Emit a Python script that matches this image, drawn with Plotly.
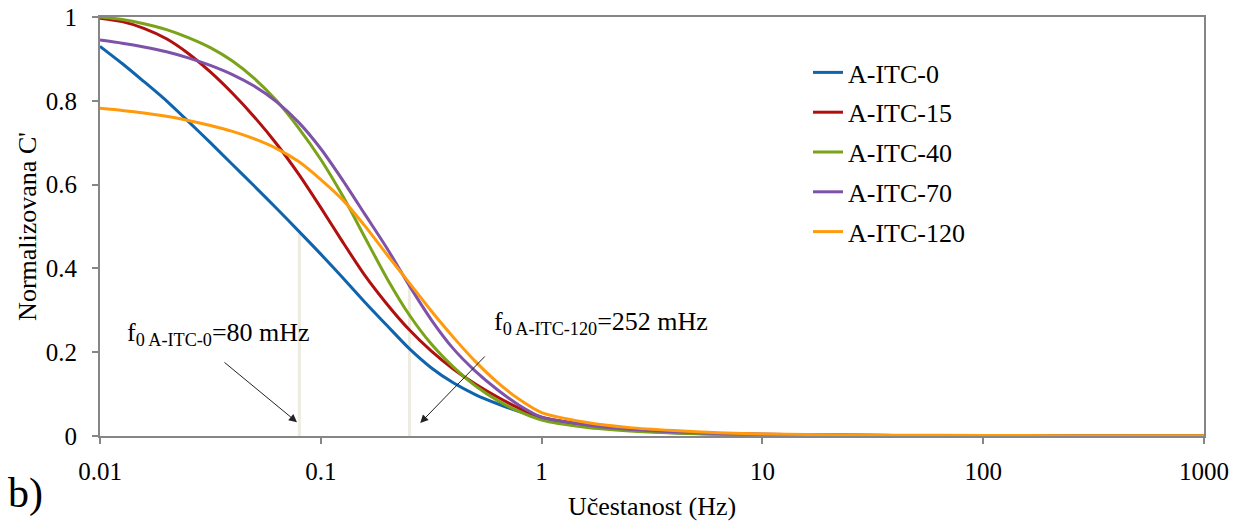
import plotly.graph_objects as go
import numpy as np

freq = [0.01, 0.0126, 0.0158, 0.02, 0.0251, 0.0316, 0.0398, 0.0501, 0.0631, 0.0794,
        0.1, 0.126, 0.158, 0.2, 0.251, 0.316, 0.398, 0.501, 0.631, 0.794,
        1, 1.58, 2.51, 3.98, 6.31, 10, 25.1, 63.1, 158, 398, 1000]

itc_0 = [0.930, 0.889, 0.846, 0.800, 0.751, 0.700, 0.648, 0.596, 0.543, 0.489,
         0.434, 0.377, 0.320, 0.263, 0.209, 0.163, 0.127, 0.099, 0.077, 0.058,
         0.042, 0.024, 0.014, 0.008, 0.005, 0.003, 0.002, 0.001, 0.0006, 0.0003, 0.0]
itc_15 = [0.997, 0.989, 0.973, 0.948, 0.913, 0.869, 0.818, 0.761, 0.697, 0.625,
          0.545, 0.462, 0.384, 0.314, 0.254, 0.203, 0.160, 0.124, 0.093, 0.066,
          0.045, 0.027, 0.016, 0.010, 0.006, 0.004, 0.002, 0.001, 0.0006, 0.0003, 0.0]
itc_40 = [1.0, 0.994, 0.984, 0.970, 0.951, 0.927, 0.895, 0.853, 0.800, 0.735,
          0.660, 0.572, 0.475, 0.375, 0.290, 0.220, 0.165, 0.120, 0.085, 0.058,
          0.038, 0.021, 0.012, 0.007, 0.004, 0.003, 0.0015, 0.001, 0.0006, 0.0003, 0.0]
itc_70 = [0.945, 0.9375, 0.9285, 0.917, 0.9025, 0.8845, 0.8625, 0.8345, 0.7975, 0.7485,
          0.6855, 0.6095, 0.530, 0.447, 0.360, 0.278, 0.2085, 0.155, 0.1105, 0.073,
          0.045, 0.027, 0.016, 0.010, 0.006, 0.004, 0.002, 0.001, 0.0006, 0.0003, 0.0]
itc_120 = [0.782, 0.777, 0.771, 0.763, 0.753, 0.741, 0.727, 0.709, 0.686, 0.655,
           0.612, 0.563, 0.502, 0.432, 0.366, 0.299, 0.236, 0.178, 0.128, 0.087,
           0.056, 0.033, 0.020, 0.013, 0.008, 0.005, 0.0025, 0.0015, 0.001, 0.0005, 0.0003]

series_names = ["A-ITC-0", "A-ITC-15", "A-ITC-40", "A-ITC-70", "A-ITC-120"]
series_values = [itc_0, itc_15, itc_40, itc_70, itc_120]
series_colors = ["#0F64AD", "#B0100E", "#7BA31A", "#7E52A8", "#FF9A0C"]

marker_freqs = [0.08, 0.252]
marker_tops = [0.482, 0.366]

x_tickvals = [0.01, 0.1, 1, 10, 100, 1000]
x_ticktext = ["0.01", "0.1", "1", "10", "100", "1000"]
y_tickvals = [0, 0.2, 0.4, 0.6, 0.8, 1]
y_ticktext = ["0", "0.2", "0.4", "0.6", "0.8", "1"]

FONT = "Liberation Serif, Times New Roman, Times, serif"
AXIS_COLOR = "#868686"

fig = go.Figure()

# light vertical marker lines at characteristic frequencies
for f, top in zip(marker_freqs, marker_tops):
    fig.add_trace(go.Scatter(x=[f, f], y=[0, top], mode="lines",
                             line=dict(color="#EEECE1", width=3),
                             showlegend=False, hoverinfo="skip"))

for name, vals, col in zip(series_names, series_values, series_colors):
    fig.add_trace(go.Scatter(x=freq, y=vals, mode="lines", name=name,
                             legendgroup=name,
                             line=dict(color=col, width=3, shape="spline", smoothing=0.7)))

# arrows
fig.add_annotation(x=np.log10(0.078), y=0.033, xref="x", yref="y",
                   ax=-74, ay=-61,
                   showarrow=True, arrowhead=2, arrowsize=1.6, arrowwidth=1,
                   arrowcolor="#222222", text="")
fig.add_annotation(x=np.log10(0.282), y=0.031, xref="x", yref="y",
                   ax=66, ay=-68,
                   showarrow=True, arrowhead=2, arrowsize=1.6, arrowwidth=1,
                   arrowcolor="#222222", text="")

# labels
fig.add_annotation(xref="paper", yref="paper", x=(125 - 100) / 1104, y=(436 - 334) / 419,
                   xanchor="left", yanchor="middle", showarrow=False,
                   text="f<sub>0 A-ITC-0</sub>=80 mHz",
                   font=dict(family=FONT, size=26, color="black"))
fig.add_annotation(xref="paper", yref="paper", x=(492 - 100) / 1104, y=(436 - 323) / 419,
                   xanchor="left", yanchor="middle", showarrow=False,
                   text="f<sub>0 A-ITC-120</sub>=252 mHz",
                   font=dict(family=FONT, size=26, color="black"))
fig.add_annotation(xref="paper", yref="paper", x=(6 - 100) / 1104, y=(436 - 493) / 419,
                   xanchor="left", yanchor="middle", showarrow=False,
                   text="b)", font=dict(family=FONT, size=42, color="black"))

fig.update_layout(
    width=1240, height=521,
    margin=dict(l=100, r=36, t=17, b=85),
    paper_bgcolor="white", plot_bgcolor="white",
    font=dict(family=FONT, size=24, color="black"),
    legend=dict(x=(808 - 100) / 1104, y=(436 - 49) / 419, xanchor="left", yanchor="top",
                traceorder="grouped", tracegroupgap=3,
                font=dict(family=FONT, size=26, color="black"),
                bgcolor="rgba(0,0,0,0)"),
    showlegend=True,
)
fig.update_xaxes(type="log", range=[-2, 3], tickvals=x_tickvals, ticktext=x_ticktext,
                 showline=True, linecolor=AXIS_COLOR, linewidth=2, mirror=True,
                 ticks="outside", ticklen=6, tickcolor=AXIS_COLOR, tickwidth=1.5,
                 ticklabelstandoff=6, automargin=False,
                 showgrid=False, zeroline=False,
                 tickfont=dict(family=FONT, size=25, color="black"),
                 title=dict(text="Učestanost (Hz)", standoff=14,
                            font=dict(family=FONT, size=26, color="black")))
fig.update_yaxes(range=[0, 1], tickvals=y_tickvals, ticktext=y_ticktext,
                 showline=True, linecolor=AXIS_COLOR, linewidth=2, mirror=True,
                 ticks="outside", ticklen=6, tickcolor=AXIS_COLOR, tickwidth=1.5,
                 ticklabelstandoff=10, automargin=False,
                 showgrid=False, zeroline=False,
                 tickfont=dict(family=FONT, size=25, color="black"),
                 title=dict(text="Normalizovana C'", standoff=2,
                            font=dict(family=FONT, size=26, color="black")))

fig.write_html("out.html", config={"displayModeBar": False},
               post_script="document.body.style.margin='0';")
